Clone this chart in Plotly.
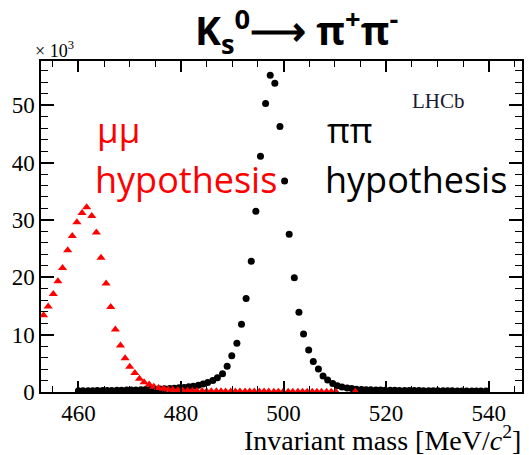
import plotly.graph_objects as go

# pi pi hypothesis (black circles), counts in units of 10^3
pipi_mass = [460.0, 460.9, 461.9, 462.8, 463.7, 464.7, 465.6, 466.5, 467.5, 468.4,
             469.4, 470.3, 471.2, 472.2, 473.1, 474.0, 475.0, 475.9, 476.8, 477.8,
             478.7, 479.6, 480.6, 481.5, 482.4, 483.4, 484.3, 485.2, 486.2, 487.1,
             488.1, 489.0, 489.9, 490.9, 491.8, 492.7, 493.7, 494.6, 495.5, 496.5,
             497.4, 498.3, 499.3, 500.2, 501.1, 502.1, 503.0, 503.9, 504.9, 505.8,
             506.8, 507.7, 508.6, 509.6, 510.5, 511.4, 512.4, 513.3, 514.2, 515.2,
             516.1, 517.0, 518.0, 518.9, 519.8, 520.8, 521.7, 522.6, 523.6, 524.5,
             525.5, 526.4, 527.3, 528.3, 529.2, 530.1, 531.1, 532.0, 532.9, 533.9,
             534.8, 535.7, 536.7, 537.6, 538.5, 539.5]
pipi_counts = [0.20, 0.20, 0.22, 0.22, 0.24, 0.25, 0.26, 0.28, 0.30, 0.31,
               0.33, 0.35, 0.37, 0.40, 0.42, 0.45, 0.48, 0.52, 0.56, 0.60,
               0.65, 0.72, 0.80, 0.90, 1.02, 1.18, 1.38, 1.65, 2.0, 2.5,
               3.2, 4.5, 6.3, 8.5, 11.8, 16.3, 22.8, 31.5, 41.1, 50.3,
               55.2, 53.8, 46.3, 36.8, 27.5, 19.9, 13.9, 10.1, 7.3, 5.3,
               4.0, 2.8, 2.1, 1.5, 1.1, 0.85, 0.70, 0.60, 0.50, 0.45,
               0.40, 0.38, 0.36, 0.34, 0.32, 0.30, 0.29, 0.28, 0.27, 0.26,
               0.25, 0.24, 0.23, 0.22, 0.22, 0.21, 0.21, 0.20, 0.20, 0.19,
               0.19, 0.18, 0.18, 0.18, 0.17, 0.17]

# mu mu hypothesis (red triangles)
mumu_mass = [453.2, 454.1, 455.1, 456.0, 456.9, 457.9, 458.8, 459.7, 460.7, 461.6,
             462.6, 463.5, 464.4, 465.4, 466.3, 467.2, 468.2, 469.1, 470.0, 471.0,
             471.9, 472.8, 473.8, 474.7, 475.6, 476.6, 477.5, 478.4, 479.4, 480.3,
             481.3, 482.2, 483.1, 484.1, 485.0, 485.9, 486.9, 487.8, 488.7, 489.7,
             490.6, 491.5, 492.5, 493.4, 494.3, 495.3, 496.2, 497.1, 498.1, 499.0,
             499.9, 500.9, 501.8, 502.8, 503.7, 504.6, 505.6, 506.5, 507.4, 508.4,
             509.3, 510.2, 514.0]
mumu_counts = [13.4, 14.9, 17.1, 19.3, 21.6, 24.7, 27.2, 29.6, 31.2, 32.2,
               30.7, 27.8, 23.4, 18.9, 14.8, 10.9, 8.1, 5.9, 4.4, 3.3,
               2.3, 1.7, 1.3, 0.9, 0.7, 0.55, 0.45, 0.38, 0.32, 0.27,
               0.23, 0.20, 0.18, 0.16, 0.14, 0.13, 0.12, 0.11, 0.10, 0.10,
               0.10, 0.09, 0.09, 0.08, 0.08, 0.07, 0.07, 0.07, 0.06, 0.06,
               0.06, 0.06, 0.05, 0.05, 0.05, 0.05, 0.05, 0.04, 0.04, 0.04,
               0.04, 0.04, 0.04]

x_ticks = [460, 480, 500, 520, 540]
y_ticks = [0, 10, 20, 30, 40, 50]

W, H = 529, 455
L, R, T, B = 41, 5, 61, 63
PW, PH = W - L - R, H - T - B


def px(x):
    return (x - L) / PW


def py(y):
    return (H - B - y) / PH


fig = go.Figure()
fig.add_trace(go.Scatter(x=pipi_mass, y=pipi_counts, mode="markers",
                         marker=dict(symbol="circle", size=7, color="black"),
                         showlegend=False, cliponaxis=True))
fig.add_trace(go.Scatter(x=mumu_mass, y=mumu_counts, mode="markers",
                         marker=dict(symbol="triangle-up", size=8, color="#ff0000"),
                         showlegend=False, cliponaxis=True))

serif = "Liberation Serif"
sans = "Open Sans"

fig.update_xaxes(range=[452.7, 546.5], tickmode="array", tickvals=x_ticks,
                 ticktext=[str(v) for v in x_ticks],
                 ticks="inside", ticklen=11, tickwidth=1.5, tickcolor="black",
                 showline=True, linecolor="black", linewidth=1.5, mirror="allticks",
                 showgrid=False, zeroline=False,
                 tickfont=dict(family=serif, size=23, color="black"),
                 minor=dict(dtick=5, tick0=460, ticks="inside", ticklen=6,
                            tickcolor="black", tickwidth=1.2, showgrid=False))
fig.update_yaxes(range=[0, 57.7], tickmode="array", tickvals=y_ticks,
                 ticktext=[str(v) for v in y_ticks],
                 ticks="inside", ticklen=13, tickwidth=1.5, tickcolor="black",
                 showline=True, linecolor="black", linewidth=1.5, mirror="allticks",
                 showgrid=False, zeroline=False,
                 tickfont=dict(family=serif, size=23, color="black"),
                 minor=dict(dtick=2, tick0=0, ticks="inside", ticklen=7,
                            tickcolor="black", tickwidth=1.2, showgrid=False))

ann = []
ann.append(dict(text="<b>K<sub>s</sub><sup>0</sup>⟶ π<sup>+</sup>π<sup>-</sup></b>",
                x=px(298), y=py(31), xref="paper", yref="paper", showarrow=False,
                xanchor="center", yanchor="middle",
                font=dict(family=sans, size=39, color="black")))
ann.append(dict(text="× 10<sup>3</sup>", x=px(33), y=py(50), xref="paper", yref="paper",
                showarrow=False, xanchor="left", yanchor="middle",
                font=dict(family=serif, size=18, color="black")))
ann.append(dict(text="μμ", x=px(95), y=py(129), xref="paper", yref="paper",
                showarrow=False, xanchor="left", yanchor="middle",
                font=dict(family=sans, size=35, color="#ff0000")))
ann.append(dict(text="hypothesis", x=px(93), y=py(179), xref="paper", yref="paper",
                showarrow=False, xanchor="left", yanchor="middle",
                font=dict(family=sans, size=36, color="#ff0000")))
ann.append(dict(text="ππ", x=px(326), y=py(129), xref="paper", yref="paper",
                showarrow=False, xanchor="left", yanchor="middle",
                font=dict(family=sans, size=35, color="black")))
ann.append(dict(text="hypothesis", x=px(324), y=py(179), xref="paper", yref="paper",
                showarrow=False, xanchor="left", yanchor="middle",
                font=dict(family=sans, size=36, color="black")))
ann.append(dict(text="LHCb", x=px(440), y=py(101), xref="paper", yref="paper",
                showarrow=False, xanchor="center", yanchor="middle",
                font=dict(family=serif, size=21, color="#1a1a33")))
ann.append(dict(text="Invariant mass [MeV/<i>c</i><sup>2</sup>]", x=px(525), y=py(438.5),
                xref="paper", yref="paper", showarrow=False, xanchor="right",
                yanchor="middle", font=dict(family=serif, size=28, color="black")))

fig.update_layout(width=W, height=H, margin=dict(l=L, r=R, t=T, b=B),
                  font=dict(family=serif, color="black"),
                  plot_bgcolor="white", paper_bgcolor="white", annotations=ann)

fig.write_html("out.html")
